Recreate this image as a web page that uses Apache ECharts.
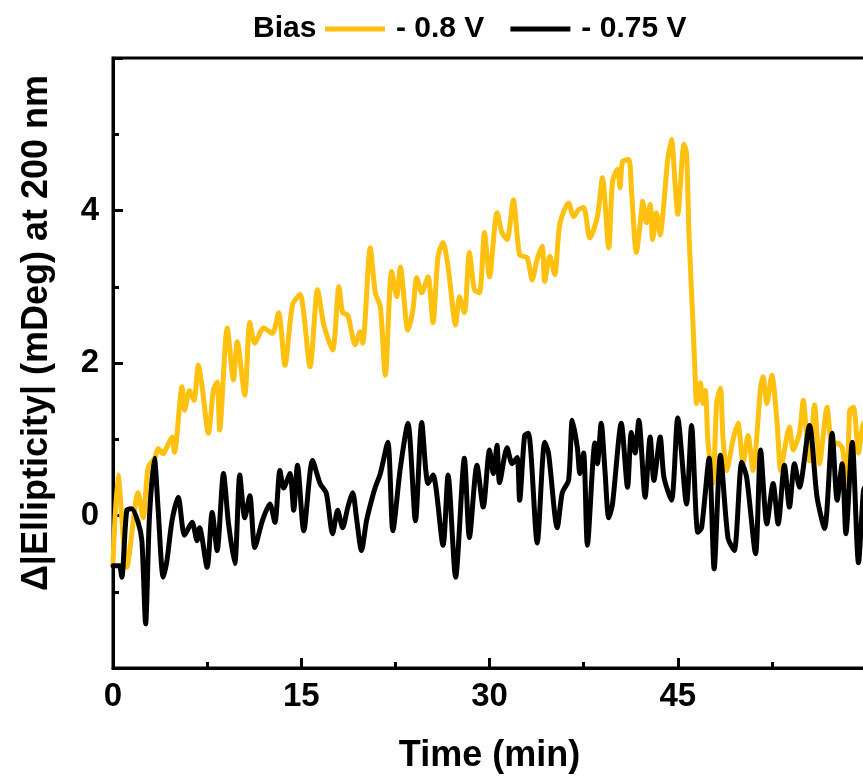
<!DOCTYPE html>
<html>
<head>
<meta charset="utf-8">
<script src="https://cdn.jsdelivr.net/npm/echarts@6/dist/echarts.min.js"></script>
<style>
html,body{margin:0;padding:0;background:#fff;}
#chart{width:863px;height:782px;}
</style>
</head>
<body>
<div id="chart"></div>
<script>
// ---- data ----
const xTicks = [0, 15, 30, 45];
const yTicks = [0, 2, 4];
const seriesNames = ['- 0.8 V', '- 0.75 V'];

const yellowTime = [0, 0.4, 1.1, 2.0, 2.4, 2.8, 3.35, 3.6, 4.0, 4.3, 4.7, 4.9, 5.5, 5.7, 6.1, 6.45, 6.8, 7.1, 7.6, 8.0, 8.3, 8.5, 9.1, 9.6, 9.9, 10.5, 10.9, 11.3, 12.0, 12.7, 13.2, 13.7, 14.3, 14.9, 15.7, 16.3, 16.8, 17.5, 18.0, 18.3, 18.7, 19.3, 19.7, 19.9, 20.5, 20.9, 21.3, 21.7, 22.2, 22.6, 22.9, 23.5, 23.9, 24.2, 24.6, 25.1, 25.5, 25.9, 26.3, 26.7, 27.3, 27.6, 28.0, 28.4, 28.8, 29.2, 29.6, 30.0, 30.6, 31.0, 31.4, 31.9, 32.4, 33.0, 33.4, 33.8, 34.2, 34.4, 34.8, 35.2, 35.6, 36.3, 36.7, 37.1, 37.5, 38.0, 38.6, 39.0, 39.5, 39.8, 40.2, 40.4, 40.6, 41.1, 41.3, 41.7, 42.1, 42.2, 42.5, 42.8, 43.0, 43.3, 43.6, 43.8, 44.1, 44.2, 44.5, 44.8, 45.0, 45.5, 45.7, 45.9, 46.2, 46.4, 46.5, 46.8, 47.0, 47.2, 47.4, 47.8, 48.1, 48.4, 48.6, 48.9, 49.4, 49.8, 50.2, 50.6, 51.0, 51.6, 51.8, 52.1, 52.5, 52.9, 53.2, 53.5, 53.9, 54.2, 54.7, 55.0, 55.3, 55.5, 55.9, 56.3, 56.9, 57.3, 57.7, 58.1, 58.5, 58.7, 59.0, 59.4, 59.8, 60];
const yellowVals = [-0.63, 0.53, -0.68, 0.3, -0.03, 0.63, 0.76, 0.88, 0.81, 0.9, 1.03, 0.83, 1.69, 1.38, 1.64, 1.51, 1.97, 1.69, 1.08, 1.64, 1.75, 1.12, 2.46, 1.78, 2.28, 1.58, 2.53, 2.26, 2.46, 2.39, 2.66, 1.97, 2.76, 2.9, 1.95, 2.96, 2.5, 2.17, 3.0, 2.66, 2.63, 2.24, 2.41, 2.26, 3.51, 2.92, 2.74, 1.84, 3.2, 2.87, 3.26, 2.43, 2.7, 3.12, 2.92, 3.13, 2.53, 3.4, 3.58, 3.26, 2.5, 2.87, 2.66, 3.45, 2.96, 2.92, 3.71, 3.13, 3.97, 3.71, 3.62, 4.14, 3.42, 3.38, 3.09, 3.36, 3.53, 3.07, 3.4, 3.16, 3.82, 4.1, 3.92, 4.01, 4.04, 3.64, 3.92, 4.43, 3.51, 4.38, 4.54, 4.3, 4.64, 4.67, 4.3, 3.45, 3.97, 4.12, 3.84, 4.08, 3.62, 3.97, 3.68, 3.92, 4.5, 4.67, 4.93, 4.32, 3.95, 4.87, 4.76, 3.66, 2.57, 1.78, 1.47, 1.74, 1.47, 1.64, 0.99, 0.42, 1.47, 1.67, 1.03, 0.59, 0.99, 1.21, 0.68, 1.05, 0.59, 1.68, 1.82, 1.47, 1.84, 1.25, 0.59, 0.86, 1.16, 0.86, 1.08, 1.51, 0.99, 0.72, 1.45, 0.68, 1.42, 0.89, 0.95, 0.89, 0.42, 1.38, 1.42, 0.82, 1.21, 1.1];

const blackTime = [0, 0.5, 0.7, 1.1, 1.5, 2.0, 2.3, 2.6, 2.9, 3.3, 3.6, 4.0, 4.3, 4.7, 5.2, 5.7, 6.3, 6.7, 6.9, 7.5, 7.9, 8.3, 8.8, 9.2, 9.7, 10.1, 10.5, 10.9, 11.3, 11.9, 12.5, 12.9, 13.3, 13.6, 14.1, 14.4, 14.7, 15.2, 15.9, 16.5, 17.0, 17.5, 17.9, 18.3, 18.7, 19.1, 19.4, 19.8, 20.2, 20.6, 20.9, 21.3, 21.9, 22.3, 22.9, 23.5, 24.1, 24.6, 25.1, 25.5, 26.3, 26.7, 27.3, 28.0, 28.4, 29.0, 29.5, 30.0, 30.3, 30.6, 30.8, 31.4, 31.8, 32.2, 32.4, 32.8, 33.1, 33.8, 34.4, 34.7, 35.4, 35.8, 36.3, 36.6, 37.0, 37.2, 37.5, 37.8, 38.4, 38.6, 38.9, 39.2, 39.5, 39.8, 40.5, 41.0, 41.3, 41.6, 41.9, 42.4, 42.8, 43.1, 43.6, 43.9, 44.5, 45.0, 45.7, 46.1, 46.6, 46.9, 47.5, 47.9, 48.4, 49.0, 49.5, 50.1, 50.5, 51.2, 51.6, 52.1, 52.6, 53.0, 53.5, 53.9, 54.3, 54.7, 55.5, 56.1, 56.7, 57.3, 57.7, 58.1, 58.4, 58.9, 59.4, 59.8, 60];
const blackVals = [-0.66, -0.66, -0.81, 0.07, 0.09, -0.09, -0.33, -1.42, -0.03, 0.75, 0.07, -0.81, -0.59, -0.07, 0.24, -0.26, -0.09, -0.33, -0.16, -0.68, 0.04, -0.46, 0.55, -0.1, -0.63, 0.53, -0.03, 0.26, -0.42, -0.07, 0.15, -0.09, 0.59, 0.36, 0.55, 0.07, 0.66, -0.2, 0.72, 0.42, 0.29, -0.24, 0.07, -0.16, 0.1, 0.3, -0.03, -0.46, -0.07, 0.2, 0.37, 0.55, 0.96, -0.2, 0.63, 1.21, -0.07, 1.22, 0.42, 0.53, -0.39, 0.53, -0.81, 0.75, -0.29, 0.66, 0.11, 0.86, 0.55, 0.92, 0.43, 0.89, 0.68, 0.76, 0.2, 1.05, 1.08, -0.36, 0.96, 0.82, -0.16, 0.3, 0.46, 1.25, 0.89, 0.55, 0.82, -0.39, 0.95, 0.68, 1.21, 0.59, -0.03, 0.15, 1.21, 0.37, 1.09, 0.82, 1.25, 0.24, 1.03, 0.46, 1.03, 0.5, 0.2, 1.28, 0.15, 1.18, -0.22, -0.16, 0.75, -0.7, 0.79, -0.29, -0.46, 0.7, 0.49, -0.5, 0.86, -0.11, 0.42, -0.11, 0.66, 0.11, 0.68, 0.37, 1.18, 0.24, -0.17, 1.08, 0.2, 0.68, -0.24, 0.96, -0.62, 0.33, 0.4];

function pairs(xs, ys){ return xs.map((x,i)=>[x, ys[i]]); }

const chart = echarts.init(document.getElementById('chart'), null, {renderer:'canvas'});
const font = 'Liberation Sans, Arial, sans-serif';
chart.setOption({
  animation:false,
  backgroundColor:'#fff',
  graphic:[{
    type:'text', left:253, top:14,
    style:{text:'Bias', font:'bold 30px ' + font, fill:'#000'}
  },{
    type:'text', x:37, y:333, rotation:Math.PI/2,
    style:{text:'\u0394|Ellipticity| (mDeg) at 200 nm', font:'bold 36px ' + font, fill:'#000',
      align:'center', verticalAlign:'middle'}
  }],
  legend:{
    data:seriesNames,
    left:325, top:14, padding:0,
    itemWidth:60, itemHeight:5, itemGap:26,
    icon:'rect',
    textStyle:{fontFamily:font, fontWeight:'bold', fontSize:30, color:'#000', padding:[0,0,0,6]}
  },
  grid:{left:113, top:58, width:753, bottom:114, outerBoundsMode:'none', containLabel:false,
    show:true, borderColor:'#000', borderWidth:3, backgroundColor:'transparent'},
  xAxis:{
    type:'value', min:0, max:60, interval:15,
    name:'Time (min)', nameLocation:'middle', nameGap:70,
    nameTextStyle:{fontFamily:font, fontWeight:'bold', fontSize:36, color:'#000'},
    axisLine:{onZero:false, lineStyle:{color:'#000', width:3}},
    axisTick:{inside:true, length:10, lineStyle:{width:3, color:'#000'}},
    minorTick:{show:true, splitNumber:2, length:6, lineStyle:{width:3, color:'#000'}},
    splitLine:{show:false},
    axisLabel:{margin:12, fontFamily:font, fontWeight:'bold', fontSize:33, color:'#000',
      formatter:v=> xTicks.includes(v) ? String(v) : ''}
  },
  yAxis:{
    type:'value', min:-2, max:6, interval:2,
    axisLine:{onZero:false, lineStyle:{color:'#000', width:3}},
    axisTick:{inside:true, length:10, lineStyle:{width:3, color:'#000'}},
    minorTick:{show:true, splitNumber:2, length:6, lineStyle:{width:3, color:'#000'}},
    splitLine:{show:false},
    axisLabel:{margin:14, fontFamily:font, fontWeight:'bold', fontSize:33, color:'#000',
      formatter:v=> yTicks.includes(v) ? String(v) : ''}
  },
  series:[
    {name:seriesNames[0], type:'line', data:pairs(yellowTime, yellowVals), showSymbol:false, smooth:0.25,
     lineStyle:{color:'#FFC010', width:5, join:'round', cap:'round'}, itemStyle:{color:'#FFC010'}, z:2},
    {name:seriesNames[1], type:'line', data:pairs(blackTime, blackVals), showSymbol:false, smooth:0.25,
     lineStyle:{color:'#000', width:5, join:'round', cap:'round'}, itemStyle:{color:'#000'}, z:3}
  ]
});
</script>
</body>
</html>
